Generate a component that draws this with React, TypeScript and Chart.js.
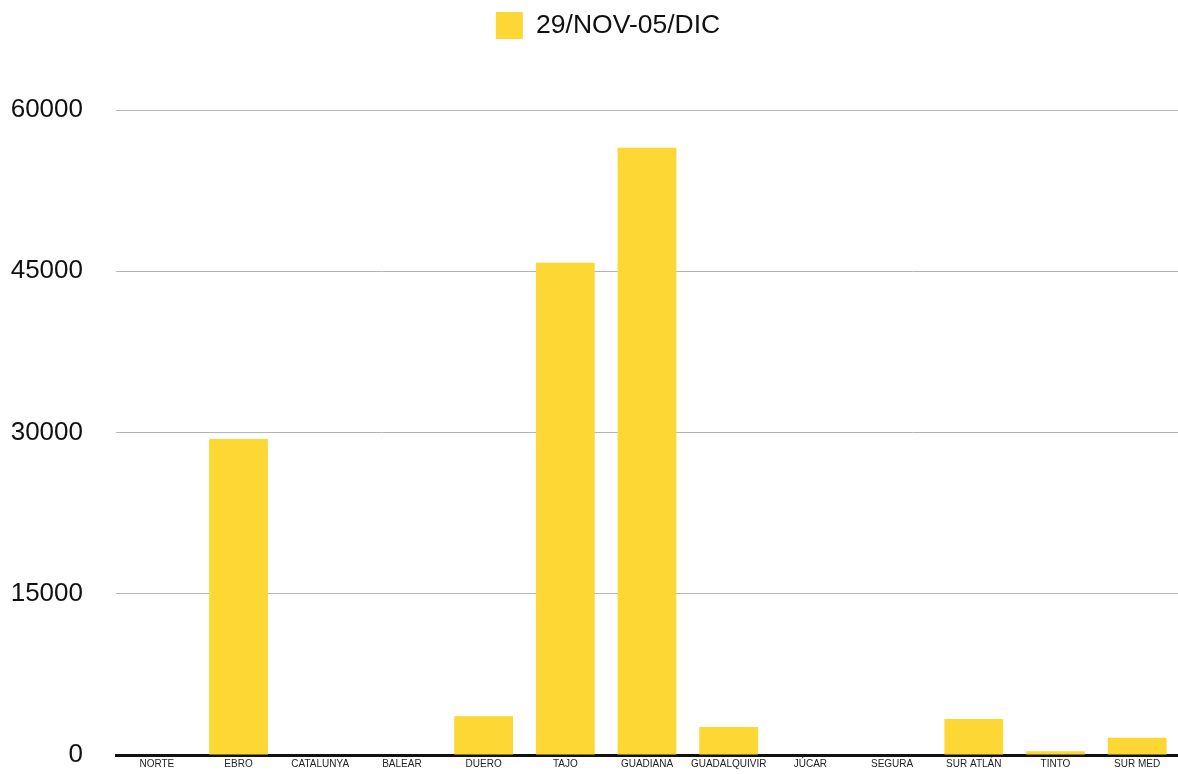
import React, { useEffect, useRef } from "react";
import { Chart, registerables } from "chart.js";

Chart.register(...registerables);

const categories = ["NORTE", "EBRO", "CATALUNYA", "BALEAR", "DUERO", "TAJO", "GUADIANA", "GUADALQUIVIR", "JÚCAR", "SEGURA", "SUR ATLÁN", "TINTO", "SUR MED"];
const seriesLabel = "29/NOV-05/DIC";
const values = [0, 29400, 0, 0, 3600, 45800, 56500, 2600, 0, 0, 3350, 350, 1600];
const yTicks = [0, 15000, 30000, 45000, 60000];

const legendMargin = {
  id: "legendMargin",
  beforeInit(chart: any) {
    const legend = chart.legend;
    if (!legend) return;
    const orig = legend.fit;
    legend.fit = function fit() {
      orig.bind(legend)();
      this.height = 110;
    };
  },
  afterLayout(chart: any) {
    const legend = chart.legend;
    if (!legend) return;
    legend.left += 19;
    legend.right += 19;
  },
};

export default function App() {
  const ref = useRef<HTMLCanvasElement>(null);
  useEffect(() => {
    if (!ref.current) return;
    const chart = new Chart(ref.current, {
      type: "bar",
      data: {
        labels: categories,
        datasets: [
          {
            label: seriesLabel,
            data: values,
            backgroundColor: "#FDD733",
            borderWidth: 0,
            categoryPercentage: 0.8,
            barPercentage: 0.9,
          },
        ],
      },
      options: {
        animation: false,
        responsive: false,
        maintainAspectRatio: false,
        layout: { padding: { top: 0, left: 0, right: 0, bottom: 0 } },
        plugins: {
          legend: {
            display: true,
            position: "top",
            labels: {
              boxWidth: 27,
              boxHeight: 27,
              padding: 12,
              color: "#111",
              font: { family: "'Liberation Sans', Arial, sans-serif", size: 26.5 },
            },
          },
          tooltip: { enabled: false },
        },
        scales: {
          x: {
            grid: { display: false, drawTicks: false },
            border: { display: true, color: "#111", width: 3 },
            ticks: {
              color: "#222",
              padding: 3,
              maxRotation: 0,
              autoSkip: false,
              font: { family: "'Liberation Sans Narrow', 'Liberation Sans', Arial, sans-serif", size: 10 },
            },
            afterFit(scale: any) {
              scale.height = 19;
              scale.paddingLeft = 0;
              scale.paddingRight = 0;
            },
          },
          y: {
            min: 0,
            max: 60000,
            afterBuildTicks(scale: any) {
              scale.ticks = yTicks.map((v) => ({ value: v }));
            },
            grid: { color: "#b5b5b5", lineWidth: 1, drawTicks: false },
            border: { display: false },
            ticks: {
              color: "#111",
              padding: 33,
              callback: (v: any) => String(v),
              font: { family: "'Liberation Sans', Arial, sans-serif", size: 26 },
            },
            afterFit(scale: any) {
              scale.width = 116;
              scale.paddingTop = 0;
              scale.paddingBottom = 0;
            },
          },
        },
      },
      plugins: [legendMargin],
    });
    return () => chart.destroy();
  }, []);
  return (
    <div style={{ position: "fixed", left: 0, top: 0, width: 1178, height: 774, background: "#fff" }}>
      <canvas ref={ref} width={1178} height={774} />
    </div>
  );
}
